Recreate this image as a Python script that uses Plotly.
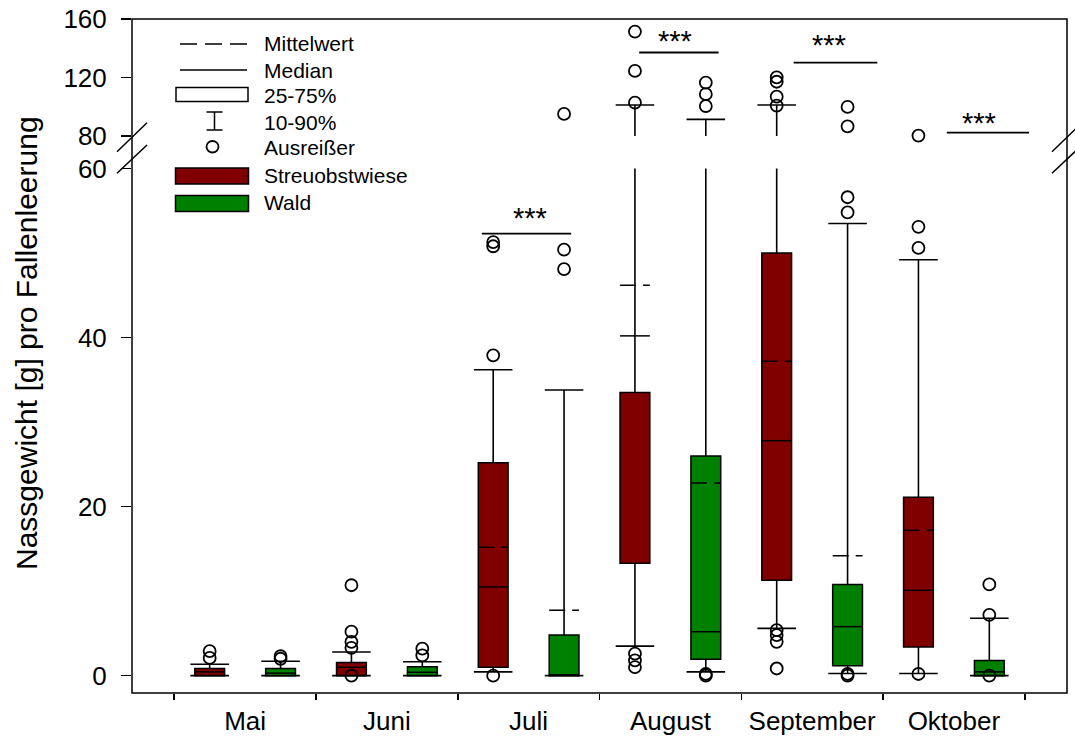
import plotly.graph_objects as go

# ---------------- data ----------------
months = ["Mai", "Juni", "Juli", "August", "September", "Oktober"]

# Streuobstwiese
so_p10 = [0.0, 0.0, 0.45, 3.5, 5.6, 0.26]
so_q1 = [0.0, 0.0, 1.0, 13.3, 11.3, 3.4]
so_med = [0.45, 1.0, 10.5, 40.2, 27.8, 10.1]
so_mean = [None, None, 15.2, 46.2, 37.2, 17.2]
so_q3 = [0.85, 1.55, 25.2, 33.5, 50.0, 21.1]
so_p90 = [1.35, 2.8, 36.2, 101.2, 101.2, 49.2]
so_out = [
    [2.1, 2.9],
    [0.0, 3.3, 4.0, 5.2, 10.7],
    [0.0, 37.9, 50.8, 51.3],
    [1.0, 1.8, 2.6, 102.8, 124.5, 151.4],
    [0.85, 4.0, 4.8, 5.4, 100.8, 106.9, 117.1, 120.1],
    [0.2, 50.6, 53.1, 80.3],
]

# Wald
wa_p10 = [0.0, 0.0, 0.0, 0.45, 0.26, 0.0]
wa_q1 = [0.0, 0.0, 0.0, 1.95, 1.16, 0.0]
wa_med = [0.3, 0.4, 0.1, 5.2, 5.8, 0.45]
wa_mean = [None, None, 7.75, 22.8, 14.2, None]
wa_q3 = [0.85, 1.05, 4.8, 26.0, 10.8, 1.8]
wa_p90 = [1.7, 1.65, 33.8, 91.4, 53.5, 6.8]
wa_out = [
    [2.0, 2.3],
    [2.4, 3.2],
    [48.1, 50.4, 95.1],
    [0.0, 0.2, 100.5, 108.6, 116.5],
    [0.0, 0.2, 54.8, 56.6, 86.6, 99.9],
    [0.0, 7.2, 10.8],
]

# significance bars (month index, start / end offset, height, star height)
sig_month = [3, 4, 5, 6]
sig_x0 = [-0.33, -0.22, -0.13, -0.05]
sig_x1 = [0.30, 0.34, 0.46, 0.53]
sig_y = [52.3, 137.1, 130.2, 82.3]
star_dx = [0.01, 0.03, 0.12, 0.18]
star_y = [54.5, 147.1, 144.4, 91.0]
sig_text = ["***", "***", "***", "***"]

legend_labels = ["Mittelwert", "Median", "25-75%", "10-90%", "Ausreißer", "Streuobstwiese", "Wald"]

# ---------------- layout constants ----------------
FONT = "Liberation Sans, Arial, sans-serif"
L, R, T, B = 132, 8, 19, 43
FW, FH = 1075, 736
W = FW - L - R
H = FH - T - B
LOW_RANGE = [-2.05, 60]
HIGH_RANGE = [80, 160]
BREAK_LO, BREAK_HI = 60, 80
low_dom = [0, (693 - 168.5) / H]
high_dom = [(693 - 136) / H, 1]

OFF = 0.25   # box offset from month centre
BW = 0.21    # box width
CAP = 0.136  # half width of whisker caps
RED = "#800000"
GREEN = "#008000"


def px(x):
    return (x - L) / W


def py(y):
    return (T + H - y) / H


fig = go.Figure()

series = [
    ("Streuobstwiese", -OFF, RED, so_p10, so_q1, so_med, so_mean, so_q3, so_p90, so_out),
    ("Wald", OFF, GREEN, wa_p10, wa_q1, wa_med, wa_mean, wa_q3, wa_p90, wa_out),
]

for name, off, color, p10, q1, med, mean, q3, p90, outl in series:
    xs = [i + 1 + off for i in range(len(months))]
    # boxes (25-75 %)
    fig.add_trace(go.Bar(
        x=xs, y=[b - a for a, b in zip(q1, q3)], base=q1, width=BW,
        marker=dict(color=color, line=dict(color="black", width=1.5)),
        yaxis="y", showlegend=False, hoverinfo="skip"))
    # whiskers and caps
    wx, wy = [], []
    for x, a, b, c, d in zip(xs, p10, q1, q3, p90):
        wx += [x, x, None, x, x, None, x - CAP, x + CAP, None, x - CAP, x + CAP, None]
        wy += [c, d, None, b, a, None, d, d, None, a, a, None]
    mx, my = [], []
    for x, m in zip(xs, med):
        mx += [x - BW / 2, x + BW / 2, None]
        my += [m, m, None]
    for ax in ["y", "y2"]:
        fig.add_trace(go.Scatter(x=wx, y=wy, mode="lines", yaxis=ax,
                                 line=dict(color="black", width=1.6),
                                 showlegend=False, hoverinfo="skip"))
        fig.add_trace(go.Scatter(x=mx, y=my, mode="lines", yaxis=ax,
                                 line=dict(color="black", width=1.5),
                                 showlegend=False, hoverinfo="skip"))
        for x, m in zip(xs, mean):
            if m is None:
                continue
            fig.add_trace(go.Scatter(x=[x - BW / 2, x + BW / 2], y=[m, m], mode="lines", yaxis=ax,
                                     line=dict(color="black", width=1.5, dash="16px,7px"),
                                     showlegend=False, hoverinfo="skip"))
    # outliers
    lo_x, lo_y, hi_x, hi_y = [], [], [], []
    for x, vals in zip(xs, outl):
        for v in vals:
            if v <= BREAK_LO:
                lo_x.append(x); lo_y.append(v)
            elif v >= BREAK_HI:
                hi_x.append(x); hi_y.append(v)
    for ax, ox, oy in [("y", lo_x, lo_y), ("y2", hi_x, hi_y)]:
        fig.add_trace(go.Scatter(x=ox, y=oy, mode="markers", yaxis=ax, cliponaxis=False,
                                 marker=dict(symbol="circle-open", size=12, color="black",
                                             line=dict(width=1.8, color="black")),
                                 showlegend=False, hoverinfo="skip"))

# significance bars
for m, a, b, yv, sdx, sy, txt in zip(sig_month, sig_x0, sig_x1, sig_y, star_dx, star_y, sig_text):
    ax = "y" if yv <= BREAK_LO else "y2"
    fig.add_trace(go.Scatter(x=[m + a, m + b], y=[yv, yv], mode="lines", yaxis=ax,
                             line=dict(color="black", width=1.8),
                             showlegend=False, hoverinfo="skip"))
    fig.add_annotation(x=m + sdx, y=sy, xref="x", yref=ax, text=txt, showarrow=False,
                       font=dict(family=FONT, size=29, color="black"),
                       xanchor="center", yanchor="middle", yshift=-3)

shapes = []
# frame
shapes.append(dict(type="rect", xref="paper", yref="paper", x0=0, x1=1, y0=0, y1=1,
                   line=dict(color="black", width=1.5), layer="above"))
# axis break marks
for cx in [L, FW - R]:
    for (ya, yb) in [(151.7, 122.7), (173.3, 145.0)]:
        shapes.append(dict(type="line", xref="paper", yref="paper",
                           x0=px(cx - 15), x1=px(cx + 15), y0=py(ya), y1=py(yb),
                           line=dict(color="black", width=1.5)))

# legend symbols
shapes.append(dict(type="line", xref="paper", yref="paper", x0=px(180), x1=px(247), y0=py(44), y1=py(44),
                   line=dict(color="black", width=1.5, dash="17px,8px")))
shapes.append(dict(type="line", xref="paper", yref="paper", x0=px(180), x1=px(247), y0=py(70), y1=py(70),
                   line=dict(color="black", width=1.5)))
shapes.append(dict(type="rect", xref="paper", yref="paper", x0=px(176), x1=px(248), y0=py(101.5), y1=py(87.5),
                   line=dict(color="black", width=1.5), fillcolor="white"))
shapes.append(dict(type="line", xref="paper", yref="paper", x0=px(214.5), x1=px(214.5), y0=py(112), y1=py(130),
                   line=dict(color="black", width=1.5)))
for yy in [112, 130]:
    shapes.append(dict(type="line", xref="paper", yref="paper", x0=px(206.5), x1=px(222.5), y0=py(yy), y1=py(yy),
                       line=dict(color="black", width=1.5)))
shapes.append(dict(type="circle", xref="paper", yref="paper", x0=px(206.5), x1=px(218.5), y0=py(152.5), y1=py(141),
                   line=dict(color="black", width=1.8)))
shapes.append(dict(type="rect", xref="paper", yref="paper", x0=px(175.5), x1=px(248.5), y0=py(184), y1=py(168),
                   line=dict(color="black", width=1.5), fillcolor=RED))
shapes.append(dict(type="rect", xref="paper", yref="paper", x0=px(175.5), x1=px(248.5), y0=py(211.5), y1=py(195.5),
                   line=dict(color="black", width=1.5), fillcolor=GREEN))

leg_y = [43, 70, 95, 122, 147, 175, 202]
for lab, yy in zip(legend_labels, leg_y):
    fig.add_annotation(xref="paper", yref="paper", x=px(262), y=py(yy), text=lab, showarrow=False,
                       xanchor="left", yanchor="middle", font=dict(family=FONT, size=21, color="black"))

# y-axis title
fig.add_annotation(xref="paper", yref="paper", x=px(27), y=py(343),
                   text="Nassgewicht [g] pro Fallenleerung", textangle=-90, showarrow=False,
                   xanchor="center", yanchor="middle", font=dict(family=FONT, size=30, color="black"))

yax_common = dict(showgrid=False, zeroline=False, showline=False, ticks="outside", ticklen=10,
                  tickwidth=1.5, tickcolor="black", ticklabelstandoff=9, automargin=False,
                  tickfont=dict(family=FONT, size=26, color="black"), anchor="x")

fig.update_layout(
    template="none",
    width=FW, height=FH,
    margin=dict(l=L, r=R, t=T, b=B, autoexpand=False),
    paper_bgcolor="white", plot_bgcolor="white",
    barmode="overlay", bargap=0,
    showlegend=False,
    shapes=shapes,
    xaxis=dict(range=[0.202, 6.798], tickmode="array", tickvals=list(range(1, len(months) + 1)),
               ticktext=months, ticks="", showgrid=False, zeroline=False, showline=False, automargin=False,
               tickfont=dict(family=FONT, size=26, color="black"), anchor="y", ticklabelstandoff=10,
               minor=dict(tickmode="array", tickvals=[i + 0.5 for i in range(len(months) + 1)],
                          ticks="outside", ticklen=6, tickwidth=1.5, tickcolor="black", showgrid=False)),
    yaxis=dict(domain=low_dom, range=LOW_RANGE, tickmode="array", tickvals=[0, 20, 40, 60], **yax_common),
    yaxis2=dict(domain=high_dom, range=HIGH_RANGE, tickmode="array", tickvals=[80, 120, 160], **yax_common),
)

fig.write_html("out.html",
               config={"displayModeBar": False, "staticPlot": True},
               post_script="document.body.style.margin='0px';document.body.style.overflow='hidden';")
